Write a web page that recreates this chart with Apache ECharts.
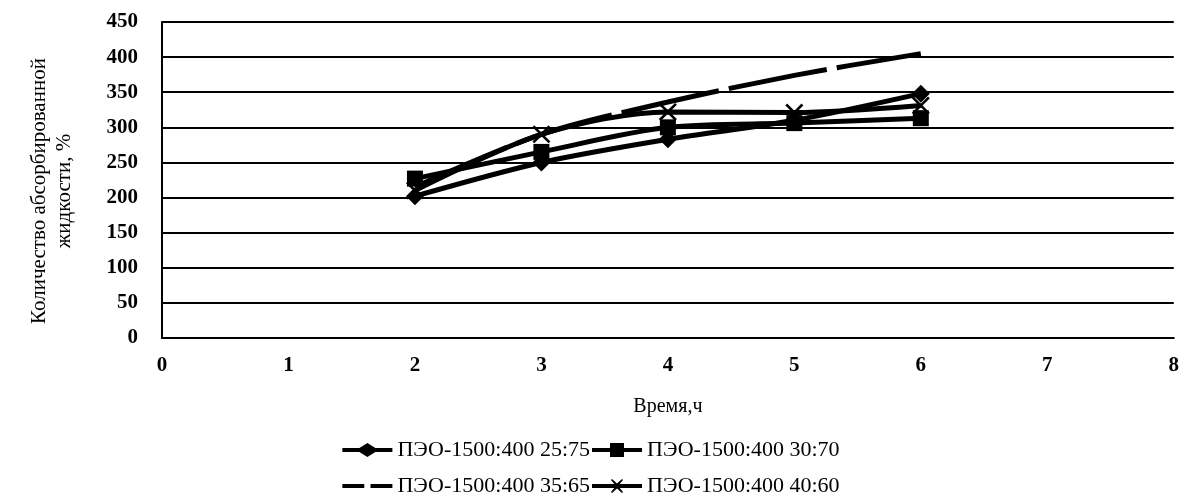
<!DOCTYPE html>
<html>
<head>
<meta charset="utf-8">
<script src="https://cdn.jsdelivr.net/npm/echarts@6/dist/echarts.min.js"></script>
<style>html,body{margin:0;padding:0;background:#fff;}#chart{width:1182px;height:501px;}</style>
</head>
<body>
<div id="chart"></div>
<script>
var hours = [2, 3, 4, 5, 6];
var s2575 = [202, 250, 283, 310, 348];
var s3070 = [227, 265, 300, 306, 313];
var s3565 = [215, 290, 336, 374, 405];
var s4060 = [210, 290, 322, 321, 331];
var names = ['ПЭО-1500:400 25:75', 'ПЭО-1500:400 30:70', 'ПЭО-1500:400 35:65', 'ПЭО-1500:400 40:60'];
var crossPath = 'path://M0,1L1,0L5,4L9,0L10,1L6,5L10,9L9,10L5,6L1,10L0,9L4,5Z';
// legend icons: thick line + marker, 50x14
var legendIcons = [
	'path://M0,5H17L25,0L33,5H50V9H33L25,14L17,9H0Z',
	'path://M0,5H18V0H32V5H50V9H32V14H18V9H0Z',
	'path://M0,5H21V9H0Z M27,5H48V9H27Z',
	'path://M0,5H50V9H0Z M19,1L20,0L25,4.5L30,0L31,1L26,7L31,13L30,14L25,9.5L20,14L19,13L24,7Z'
];
var serif = '"Liberation Serif", "DejaVu Serif", serif';

function pairs(vals){
	var out = [];
	for (var i = 0; i < hours.length; i++) {
		out.push([hours[i], vals[i]]);
	}
	return out;
}
function mkSeries(name, vals, symbol, size, dashed){
	return {
		name: name,
		type: 'line',
		data: pairs(vals),
		smooth: 0.3,
		symbol: symbol,
		symbolSize: size,
		showSymbol: symbol != 'none',
		itemStyle: {color: '#000'},
		lineStyle: {color: '#000', width: 5, type: dashed ? [100, 10] : 'solid'},
		z: 3
	};
}
function legendData(a, b){
	return [{name: names[a], icon: legendIcons[a]}, {name: names[b], icon: legendIcons[b]}];
}

var myChart = echarts.init(document.getElementById('chart'));
var legendText = {color: '#000', fontFamily: serif, fontSize: 22, padding: [0, 2, 0, 0]};
option = {
	animation: false,
	grid: {left: 162, right: 4, top: 22, bottom: 163},
	legend: [{
		data: legendData(0, 1),
		top: 434, left: 'center',
		itemWidth: 50, itemHeight: 14, itemGap: 2,
		textStyle: legendText
	}, {
		data: legendData(2, 3),
		top: 470, left: 'center',
		itemWidth: 50, itemHeight: 14, itemGap: 2,
		textStyle: legendText
	}],
	graphic: [{
		type: 'text',
		x: 52, y: 191,
		rotation: Math.PI / 2,
		style: {
			text: 'Количество абсорбированной\nжидкости, %',
			font: '21px "Liberation Serif", serif',
			fill: '#000',
			align: 'center',
			verticalAlign: 'middle',
			lineHeight: 25
		}
	}],
	xAxis: {
		type: 'value', min: 0, max: 8, interval: 1,
		name: 'Время,ч', nameLocation: 'middle', nameGap: 59,
		nameTextStyle: {color: '#000', fontFamily: serif, fontSize: 20},
		axisLine: {lineStyle: {color: '#000', width: 2}},
		axisTick: {show: false},
		splitLine: {show: false},
		axisLabel: {color: '#000', fontFamily: serif, fontSize: 21, fontWeight: 'bold', margin: 17}
	},
	yAxis: {
		type: 'value', min: 0, max: 450, interval: 50,
		axisLine: {show: true, lineStyle: {color: '#000', width: 2}},
		axisTick: {show: false},
		splitLine: {lineStyle: {color: '#000', width: 2}},
		axisLabel: {color: '#000', fontFamily: serif, fontSize: 21, fontWeight: 'bold', margin: 24}
	},
	series: [
		mkSeries(names[0], s2575, 'diamond', 18, false),
		mkSeries(names[1], s3070, 'rect', 16, false),
		mkSeries(names[2], s3565, 'none', 0, true),
		mkSeries(names[3], s4060, crossPath, 18, false)
	]
};
myChart.setOption(option);
</script>
</body>
</html>
